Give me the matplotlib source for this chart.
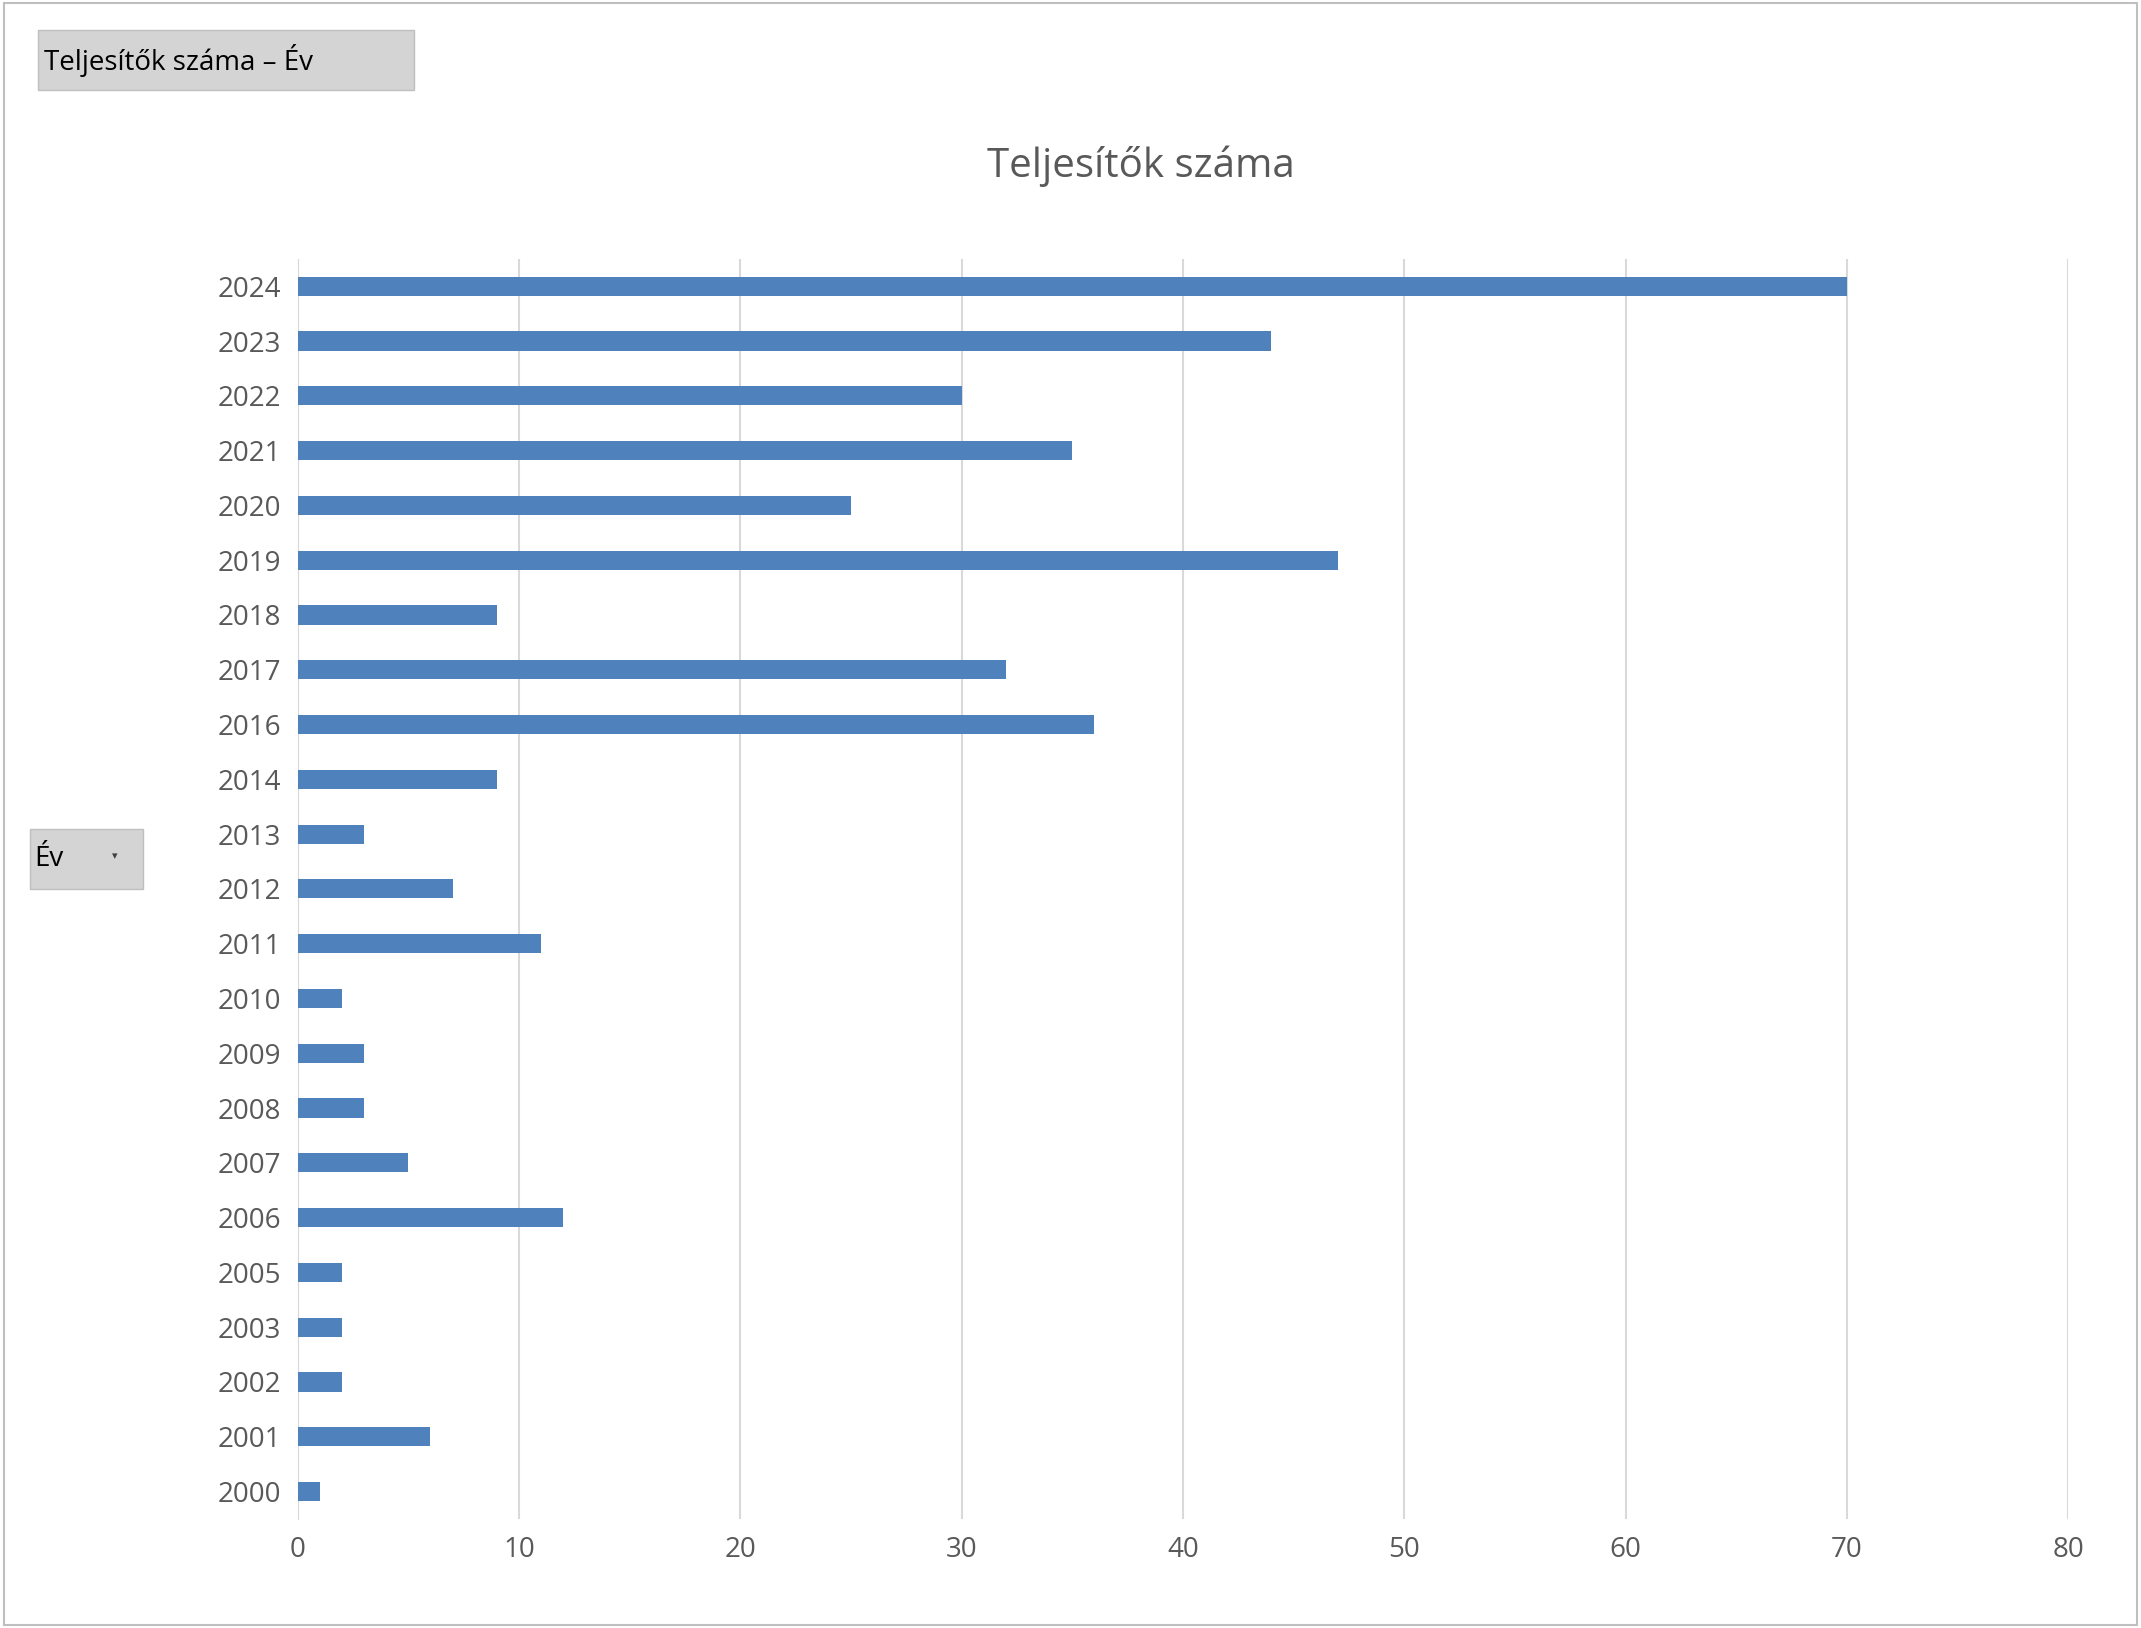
import matplotlib
matplotlib.use("Agg")
import matplotlib.pyplot as plt
from matplotlib.patches import Rectangle

years = ["2000","2001","2002","2003","2005","2006","2007","2008","2009","2010","2011",
         "2012","2013","2014","2016","2017","2018","2019","2020","2021","2022","2023","2024"]
values = [1,6,2,2,2,12,5,3,3,2,11,7,3,9,36,32,9,47,25,35,30,44,70]
xticks = [0,10,20,30,40,50,60,70,80]

plt.rcParams['font.family'] = ['Open Sans', 'DejaVu Sans']
fig = plt.figure(figsize=(21.41,16.28), dpi=100)
ax = fig.add_axes([0.139, 0.067, 0.827, 0.774])
ax.barh(range(len(years)), values, height=0.35, color='#4f81bd', zorder=3)
ax.set_yticks(range(len(years)))
ax.set_yticklabels(years)
ax.set_xticks(xticks)
ax.set_xlim(0, 80)
ax.set_ylim(-0.5, len(years)-0.5)
ax.grid(axis='x', color='#d9d9d9', linewidth=1.5, zorder=0)
for s in ['top','right','bottom']:
    ax.spines[s].set_visible(False)
ax.spines['left'].set_color('#d9d9d9')
ax.tick_params(length=0, labelsize=20, colors='#595959', pad=12)
fig.text(0.533, 0.898, "Teljesítők száma", ha='center', va='center', fontsize=29, color='#595959')

fig.patches.append(Rectangle((0.002,0.002),0.996,0.996, transform=fig.transFigure,
                             fill=False, edgecolor='#bfbfbf', linewidth=1.5))
fig.patches.append(Rectangle((28/1568, 1-66/1192), 275/1568, 44/1192, transform=fig.transFigure,
                             facecolor='#d4d4d4', edgecolor='#bfbfbf'))
fig.text(32/1568, 1-44/1192, "Teljesítők száma – Év", va='center', fontsize=20, color='black')
fig.patches.append(Rectangle((22/1568, 1-651/1192), 83/1568, 44/1192, transform=fig.transFigure,
                             facecolor='#d4d4d4', edgecolor='#bfbfbf'))
fig.text(25/1568, 1-629/1192, "Év", va='center', fontsize=20, color='black')
fig.text(84/1568, 1-627/1192, "▾", va='center', ha='center', fontsize=8, color='#404040')
fig.savefig("out.png", dpi=100)
